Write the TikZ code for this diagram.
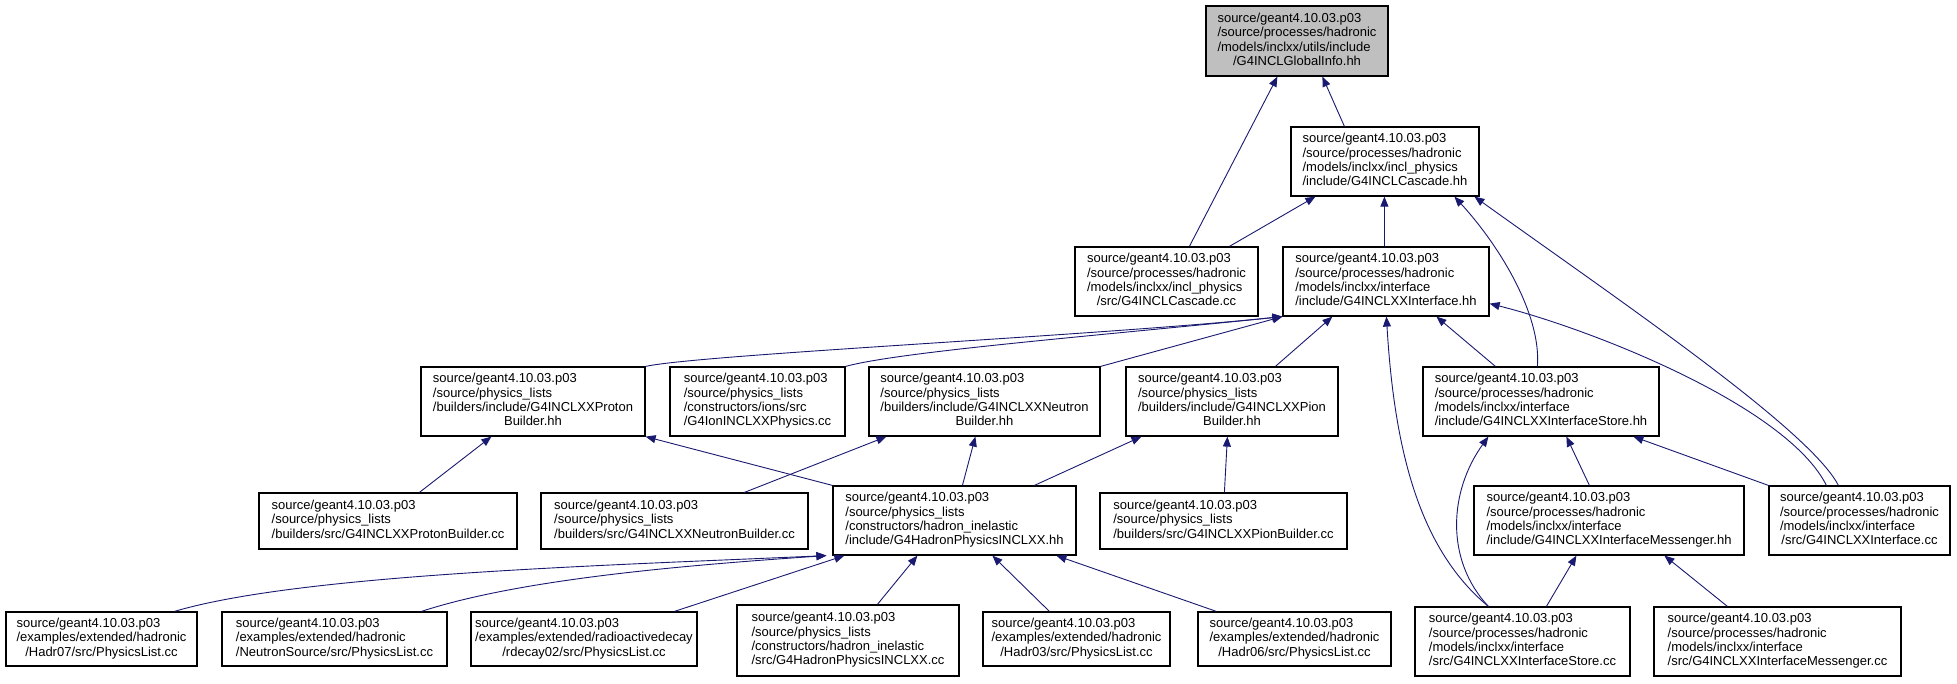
\documentclass[tikz,border=0pt]{standalone}
\usepackage{fontspec}
\setmainfont{Liberation Sans}
\usetikzlibrary{arrows.meta}
\definecolor{edgeblue}{HTML}{191970}
\definecolor{rootgray}{HTML}{BFBFBF}
\newcommand\lns[2]{\begin{tabular}{@{}l@{}}#1\\\multicolumn{1}{@{}c@{}}{#2}\end{tabular}}
\newcommand\mkbox[7][]{\pgfmathsetmacro\bw{#5-#3}\pgfmathsetmacro\bh{#6-#4}%
  \node[box,#1,minimum width=\bw pt,minimum height=\bh pt] (#2) at ({(#3+#5)/2},{(#4+#6)/2}) {#7};}
\tikzset{
  box/.style={draw=black, line width=1.2pt, fill=white, inner sep=0pt, font=\fontsize{13}{14.3}\selectfont},
  rootbox/.style={fill=rootgray},
  edge/.style={draw=edgeblue, line width=0.9pt, {Triangle[length=10pt,width=8pt]}-}
}
\begin{document}
\begin{tikzpicture}[x=1pt,y=-1pt]
\useasboundingbox (0,0) rectangle (1957,683);
% row 0
\mkbox[rootbox]{root}{1206}{6}{1388}{76}{\lns{source/geant4.10.03.p03\\/source/processes/hadronic\\/models/inclxx/utils/include}{/G4INCLGlobalInfo.hh}}
% row 1
\mkbox{casch}{1291}{127}{1479}{196}{\lns{source/geant4.10.03.p03\\/source/processes/hadronic\\/models/inclxx/incl\_physics}{/include/G4INCLCascade.hh}}
% row 2
\mkbox{cascc}{1075}{247}{1258}{316}{\lns{source/geant4.10.03.p03\\/source/processes/hadronic\\/models/inclxx/incl\_physics}{/src/G4INCLCascade.cc}}
\mkbox{ifh}{1283}{247}{1489}{316}{\lns{source/geant4.10.03.p03\\/source/processes/hadronic\\/models/inclxx/interface}{/include/G4INCLXXInterface.hh}}
% row 3
\mkbox{pbh}{421}{367}{645}{436}{\lns{source/geant4.10.03.p03\\/source/physics\_lists\\/builders/include/G4INCLXXProton}{Builder.hh}}
\mkbox{ion}{670}{367}{845}{436}{\lns{source/geant4.10.03.p03\\/source/physics\_lists\\/constructors/ions/src}{/G4IonINCLXXPhysics.cc}}
\mkbox{nbh}{869}{367}{1100}{436}{\lns{source/geant4.10.03.p03\\/source/physics\_lists\\/builders/include/G4INCLXXNeutron}{Builder.hh}}
\mkbox{pibh}{1126}{367}{1338}{436}{\lns{source/geant4.10.03.p03\\/source/physics\_lists\\/builders/include/G4INCLXXPion}{Builder.hh}}
\mkbox{ish}{1423}{367}{1659}{436}{\lns{source/geant4.10.03.p03\\/source/processes/hadronic\\/models/inclxx/interface}{/include/G4INCLXXInterfaceStore.hh}}
% row 4
\mkbox{pbcc}{259}{493}{517}{549}{\lns{source/geant4.10.03.p03\\/source/physics\_lists}{/builders/src/G4INCLXXProtonBuilder.cc}}
\mkbox{nbcc}{541}{493}{808}{549}{\lns{source/geant4.10.03.p03\\/source/physics\_lists}{/builders/src/G4INCLXXNeutronBuilder.cc}}
\mkbox{hph}{833}{486}{1076}{555}{\lns{source/geant4.10.03.p03\\/source/physics\_lists\\/constructors/hadron\_inelastic}{/include/G4HadronPhysicsINCLXX.hh}}
\mkbox{picc}{1100}{493}{1347}{549}{\lns{source/geant4.10.03.p03\\/source/physics\_lists}{/builders/src/G4INCLXXPionBuilder.cc}}
\mkbox{msh}{1474}{486}{1744}{555}{\lns{source/geant4.10.03.p03\\/source/processes/hadronic\\/models/inclxx/interface}{/include/G4INCLXXInterfaceMessenger.hh}}
\mkbox{ifcc}{1769}{486}{1950}{555}{\lns{source/geant4.10.03.p03\\/source/processes/hadronic\\/models/inclxx/interface}{/src/G4INCLXXInterface.cc}}
% row 5
\mkbox{h07}{6}{612}{197}{666}{\lns{source/geant4.10.03.p03\\/examples/extended/hadronic}{/Hadr07/src/PhysicsList.cc}}
\mkbox{nsrc}{222}{612}{447}{666}{\lns{source/geant4.10.03.p03\\/examples/extended/hadronic}{/NeutronSource/src/PhysicsList.cc}}
\mkbox{rd02}{471}{612}{697}{666}{\lns{source/geant4.10.03.p03\\/examples/extended/radioactivedecay}{/rdecay02/src/PhysicsList.cc}}
\mkbox{hpcc}{737}{605}{959}{676}{\lns{source/geant4.10.03.p03\\/source/physics\_lists\\/constructors/hadron\_inelastic}{/src/G4HadronPhysicsINCLXX.cc}}
\mkbox{h03}{983}{612}{1170}{666}{\lns{source/geant4.10.03.p03\\/examples/extended/hadronic}{/Hadr03/src/PhysicsList.cc}}
\mkbox{h06}{1198}{612}{1391}{666}{\lns{source/geant4.10.03.p03\\/examples/extended/hadronic}{/Hadr06/src/PhysicsList.cc}}
\mkbox{iscc}{1415}{607}{1630}{676}{\lns{source/geant4.10.03.p03\\/source/processes/hadronic\\/models/inclxx/interface}{/src/G4INCLXXInterfaceStore.cc}}
\mkbox{mscc}{1654}{607}{1901}{676}{\lns{source/geant4.10.03.p03\\/source/processes/hadronic\\/models/inclxx/interface}{/src/G4INCLXXInterfaceMessenger.cc}}
% edges (arrow at the included file)
\draw[edge] ([xshift=72pt]root.south west) -- ([xshift=115pt]cascc.north west);
\draw[edge] ([xshift=117pt]root.south west) -- ([xshift=54pt]casch.north west);
\draw[edge] ([xshift=25pt]casch.south west) -- ([xshift=155pt]cascc.north west);
\draw[edge] ([xshift=94pt]casch.south west) -- ([xshift=102pt]ifh.north west);
\draw[edge] ([xshift=164pt]casch.south west) .. controls +(45,49) and +(4,-52) .. ([xshift=115pt]ish.north west);
\draw[edge] ([xshift=184pt]casch.south west) .. controls +(145,104) and +(-29,-56) .. ([xshift=70pt]ifcc.north west);
\draw[edge] (ifh.south west) .. controls +(-183,19) and +(55,-12) .. (pbh.north east);
\draw[edge] (ifh.south west) .. controls +(-183,19) and +(55,-15) .. (ion.north east);
\draw[edge] (ifh.south west) -- (nbh.north east);
\draw[edge] ([xshift=50pt]ifh.south west) -- ([xshift=150pt]pibh.north west);
\draw[edge] ([xshift=104pt]ifh.south west) .. controls +(8,134) and +(-69,-57) .. ([xshift=74pt]iscc.north west);
\draw[edge] ([xshift=154pt]ifh.south west) -- ([xshift=73pt]ish.north west);
\draw[edge] ([yshift=13pt]ifh.south east) .. controls +(100,25) and +(-40,-80) .. ([xshift=58pt]ifcc.north west);
\draw[edge] ([xshift=66pt]ish.south west) .. controls +(-39,54) and +(-44,-47) .. ([xshift=74pt]iscc.north west);
\draw[edge] ([xshift=144pt]ish.south west) -- ([xshift=116pt]msh.north west);
\draw[edge] ([xshift=211pt]ish.south west) -- (ifcc.north west);
\draw[edge] ([xshift=103pt]msh.south west) -- ([xshift=132pt]iscc.north west);
\draw[edge] ([xshift=191pt]msh.south west) -- ([xshift=74pt]mscc.north west);
\draw[edge] ([xshift=71pt]pbh.south west) -- ([xshift=161pt]pbcc.north west);
\draw[edge] (pbh.south east) -- (hph.north west);
\draw[edge] ([xshift=18pt]nbh.south west) -- ([xshift=204pt]nbcc.north west);
\draw[edge] ([xshift=107pt]nbh.south west) -- ([xshift=130pt]hph.north west);
\draw[edge] ([xshift=16pt]pibh.south west) -- ([xshift=202pt]hph.north west);
\draw[edge] ([xshift=102pt]pibh.south west) -- ([xshift=125pt]picc.north west);
\draw[edge] ([xshift=-6pt]hph.south west) .. controls +(-227,10) and +(125,-37) .. ([xshift=169pt]h07.north west);
\draw[edge] ([xshift=-6pt]hph.south west) .. controls +(-147,10) and +(98,-32) .. ([xshift=200pt]nsrc.north west);
\draw[edge] ([xshift=12pt]hph.south west) -- ([xshift=204pt]rd02.north west);
\draw[edge] ([xshift=85pt]hph.south west) -- ([xshift=141pt]hpcc.north west);
\draw[edge] ([xshift=160pt]hph.south west) -- ([xshift=67pt]h03.north west);
\draw[edge] ([xshift=224pt]hph.south west) -- ([xshift=19pt]h06.north west);
\end{tikzpicture}
\end{document}
